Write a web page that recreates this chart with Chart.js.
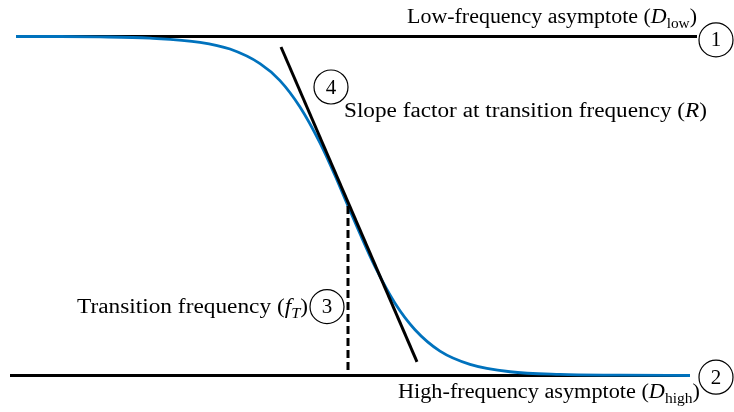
<!DOCTYPE html>
<html>
<head>
<meta charset="utf-8">
<script src="https://cdn.jsdelivr.net/npm/chart.js@4.4.1/dist/chart.umd.min.js"></script>
<style>
  html, body { margin: 0; padding: 0; background: #fff; }
  #wrap { width: 734px; height: 412px; }
</style>
</head>
<body>
<div id="wrap"><canvas id="c" width="734" height="412"></canvas></div>
<script>
// Frequency axis (arbitrary units) and normalised response
const curveX = [16, 60, 100, 150, 200, 230, 260, 280, 300, 320, 335, 348, 360, 375, 395, 415, 440, 470, 510, 560, 620, 690];
const curveY = [1.000, 1.000, 0.999, 0.995, 0.983, 0.963, 0.920, 0.870, 0.792, 0.686, 0.590, 0.500, 0.418, 0.321, 0.213, 0.135, 0.072, 0.033, 0.011, 0.003, 0.001, 0.000];

const lowAsymX = [16, 697];
const lowAsymY = [1, 1];
const highAsymX = [10, 687];
const highAsymY = [0, 0];

const tangentX = [281, 417];
const tangentY = [0.969, 0.040];

const transitionX = [348, 348];
const transitionY = [0.5, 0];

const toPoints = (xs, ys) => xs.map((x, i) => ({ x: x, y: ys[i] }));

const FAM = '"Liberation Serif", "DejaVu Serif", serif';

function segFont(st, size) {
    let s = size, dy = 0, it = '';
    if (st === 'i') it = 'italic ';
    if (st === 'sub') { s = size * 0.7; dy = size * 0.25; }
    if (st === 'subi') { s = size * 0.7; dy = size * 0.25; it = 'italic '; }
    return { font: it + s + 'px ' + FAM, dy: dy };
}

// rich text helper: segments of [text, style], stretched to span x0..x1
function drawRich(ctx, segs, x0, x1, y, size) {
    let w = 0;
    segs.forEach(([txt, st]) => {
        ctx.font = segFont(st, size).font;
        w += ctx.measureText(txt).width;
    });
    ctx.save();
    ctx.translate(x0, y);
    ctx.scale((x1 - x0) / w, 1);
    let cx = 0;
    segs.forEach(([txt, st]) => {
        const f = segFont(st, size);
        ctx.font = f.font;
        ctx.fillText(txt, cx, f.dy);
        cx += ctx.measureText(txt).width;
    });
    ctx.restore();
}

const labelsPlugin = {
    id: 'labels',
    afterDatasetsDraw(chart) {
        const ctx = chart.ctx;
        const xs = chart.scales.x, ys = chart.scales.y;
        const px = v => xs.getPixelForValue(v);
        const py = v => ys.getPixelForValue(v);
        ctx.save();
        ctx.fillStyle = '#000';
        ctx.textBaseline = 'alphabetic';
        ctx.textAlign = 'left';

        drawRich(ctx, [['Low-frequency asymptote (', 'n'], ['D', 'i'], ['low', 'sub'], [')', 'n']],
            px(407), px(697), py(1.04), 20.5);
        drawRich(ctx, [['Slope factor at transition frequency (', 'n'], ['R', 'i'], [')', 'n']],
            px(344), px(707), py(0.763), 20.5);
        drawRich(ctx, [['Transition frequency (', 'n'], ['f', 'i'], ['T', 'subi'], [')', 'n']],
            px(77), px(308), py(0.185), 20.5);
        drawRich(ctx, [['High-frequency asymptote (', 'n'], ['D', 'i'], ['high', 'sub'], [')', 'n']],
            px(398), px(700), py(-0.066), 20.5);

        // numbered circles
        const marks = [[716, 0.99, '1'], [716, -0.005, '2'], [327, 0.203, '3'], [331, 0.851, '4']];
        marks.forEach(([mx, my, n]) => {
            ctx.beginPath();
            ctx.arc(px(mx), py(my), 17, 0, Math.PI * 2);
            ctx.lineWidth = 1.2;
            ctx.strokeStyle = '#000';
            ctx.stroke();
            ctx.textAlign = 'center';
            ctx.textBaseline = 'middle';
            ctx.font = '21px ' + FAM;
            ctx.fillText(n, px(mx), py(my) + 1);
        });
        ctx.restore();
    }
};

new Chart(document.getElementById('c'), {
    type: 'scatter',
    data: {
        datasets: [
            { data: toPoints(tangentX, tangentY), showLine: true, borderColor: '#000', borderWidth: 3, pointRadius: 0, order: 0 },
            { data: toPoints(transitionX, transitionY), showLine: true, borderColor: '#000', borderWidth: 3, borderDash: [8, 4], pointRadius: 0, order: 1 },
            { data: toPoints(curveX, curveY), showLine: true, borderColor: '#0072bd', borderWidth: 2.8, pointRadius: 0, cubicInterpolationMode: 'monotone', order: 2 },
            { data: toPoints(lowAsymX, lowAsymY), showLine: true, borderColor: '#000', borderWidth: 3, pointRadius: 0, order: 3 },
            { data: toPoints(highAsymX, highAsymY), showLine: true, borderColor: '#000', borderWidth: 3, pointRadius: 0, order: 3 }
        ]
    },
    options: {
        responsive: false,
        animation: false,
        devicePixelRatio: 1,
        layout: { padding: 0 },
        plugins: { legend: { display: false }, tooltip: { enabled: false } },
        scales: {
            x: { type: 'linear', min: 0, max: 734, display: false },
            y: { type: 'linear', min: -0.1077, max: 1.1077, display: false }
        }
    },
    plugins: [labelsPlugin]
});
</script>
</body>
</html>
